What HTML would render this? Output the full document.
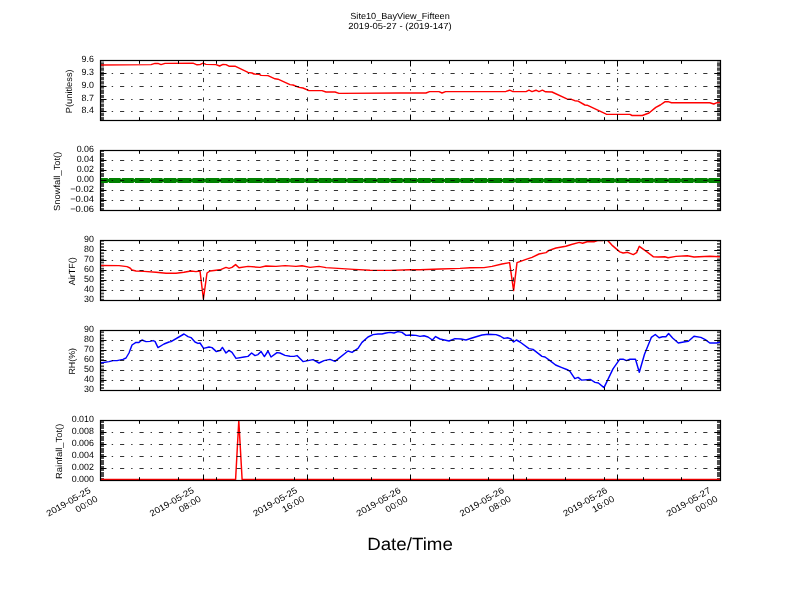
<!DOCTYPE html><html><head><meta charset="utf-8"><style>html,body{margin:0;padding:0;background:#fff;}svg{display:block;will-change:transform;}text{font-family:"Liberation Sans", sans-serif;text-rendering:geometricPrecision;}</style></head><body>
<svg width="800" height="600" viewBox="0 0 800 600">
<text x="400.00" y="18.90" font-size="8.86" text-anchor="middle" textLength="99.49" lengthAdjust="spacingAndGlyphs">Site10_BayView_Fifteen</text>
<text x="400.00" y="28.60" font-size="8.86" text-anchor="middle" textLength="103.35" lengthAdjust="spacingAndGlyphs">2019-05-27 - (2019-147)</text>
<clipPath id="c0"><rect x="100" y="60" width="621" height="61"/></clipPath>
<rect x="101" y="61.00" width="3" height="0.45" fill="#4d4d4d"/><rect x="717" y="61.00" width="3" height="0.45" fill="#4d4d4d"/>
<rect x="101" y="62.35" width="3" height="4.20" fill="#4d4d4d"/><rect x="717" y="62.35" width="3" height="4.20" fill="#4d4d4d"/>
<rect x="101" y="67.45" width="3" height="3.40" fill="#4d4d4d"/><rect x="717" y="67.45" width="3" height="3.40" fill="#4d4d4d"/>
<rect x="101" y="71.75" width="3" height="4.20" fill="#4d4d4d"/><rect x="717" y="71.75" width="3" height="4.20" fill="#4d4d4d"/>
<rect x="101" y="76.85" width="3" height="3.40" fill="#4d4d4d"/><rect x="717" y="76.85" width="3" height="3.40" fill="#4d4d4d"/>
<rect x="101" y="81.15" width="3" height="3.30" fill="#4d4d4d"/><rect x="717" y="81.15" width="3" height="3.30" fill="#4d4d4d"/>
<rect x="101" y="85.35" width="3" height="3.30" fill="#4d4d4d"/><rect x="717" y="85.35" width="3" height="3.30" fill="#4d4d4d"/>
<rect x="101" y="89.55" width="3" height="4.50" fill="#4d4d4d"/><rect x="717" y="89.55" width="3" height="4.50" fill="#4d4d4d"/>
<rect x="101" y="94.95" width="3" height="3.10" fill="#4d4d4d"/><rect x="717" y="94.95" width="3" height="3.10" fill="#4d4d4d"/>
<rect x="101" y="98.95" width="3" height="3.70" fill="#4d4d4d"/><rect x="717" y="98.95" width="3" height="3.70" fill="#4d4d4d"/>
<rect x="101" y="103.55" width="3" height="3.40" fill="#4d4d4d"/><rect x="717" y="103.55" width="3" height="3.40" fill="#4d4d4d"/>
<rect x="101" y="107.85" width="3" height="3.90" fill="#4d4d4d"/><rect x="717" y="107.85" width="3" height="3.90" fill="#4d4d4d"/>
<rect x="101" y="112.65" width="3" height="3.50" fill="#4d4d4d"/><rect x="717" y="112.65" width="3" height="3.50" fill="#4d4d4d"/>
<rect x="101" y="117.05" width="3" height="2.95" fill="#4d4d4d"/><rect x="717" y="117.05" width="3" height="2.95" fill="#4d4d4d"/>
<path d="M100.0,65.0 L151.0,64.6 L155.0,63.4 L158.0,63.4 L161.0,64.6 L165.0,63.4 L193.0,63.2 L197.0,64.8 L200.0,64.6 L203.0,63.2 L206.0,64.4 L216.0,64.6 L219.6,66.0 L223.0,64.4 L226.0,64.6 L229.0,66.2 L235.0,66.2 L248.0,72.4 L252.0,73.0 L254.0,74.0 L259.0,74.2 L261.0,75.4 L268.0,75.6 L275.0,78.8 L278.0,79.2 L290.0,84.6 L293.0,85.0 L299.0,87.4 L303.0,88.0 L309.0,90.6 L322.0,90.6 L326.0,92.0 L335.0,92.0 L339.0,93.4 L400.0,93.0 L426.0,93.0 L429.6,91.6 L439.0,91.6 L442.0,93.0 L445.6,91.6 L506.0,91.4 L509.6,90.2 L513.0,91.6 L526.0,91.6 L529.0,90.2 L532.0,91.6 L536.0,90.2 L539.0,91.6 L542.4,90.2 L545.6,91.8 L552.0,92.0 L566.9,98.9 L571.4,99.3 L574.8,100.7 L578.1,101.1 L584.9,105.0 L587.1,105.2 L606.3,114.2 L629.9,114.4 L632.1,115.5 L642.3,115.5 L649.0,113.0 L655.8,107.4 L660.3,105.0 L664.8,101.8 L668.1,101.6 L671.5,102.7 L709.8,102.7 L713.8,104.0 L717.0,102.7 L720.0,102.5" fill="none" stroke="#ff0000" stroke-width="1.45" stroke-linejoin="round" clip-path="url(#c0)"/>
<path d="M100.6,73.5H720M100.6,86.5H720M100.6,99.5H720M100.6,111.5H720M203.5,121V60M307.5,121V60M410.5,121V60M513.5,121V60M617.5,121V60" stroke="#000" stroke-width="0.8" stroke-dasharray="4.17 6.94 1.39 6.94" fill="none"/>
<path d="M101,60.5H106.5M720,60.5H714.5M101,73.5H106.5M720,73.5H714.5M101,86.5H106.5M720,86.5H714.5M101,99.5H106.5M720,99.5H714.5M101,111.5H106.5M720,111.5H714.5M100.5,120V114.5M100.5,61V66.5M203.5,120V114.5M203.5,61V66.5M307.5,120V114.5M307.5,61V66.5M410.5,120V114.5M410.5,61V66.5M513.5,120V114.5M513.5,61V66.5M617.5,120V114.5M617.5,61V66.5M720.5,120V114.5M720.5,61V66.5M139.5,120V117.2M139.5,61V63.8M178.5,120V117.2M178.5,61V63.8M216.5,120V117.2M216.5,61V63.8M255.5,120V117.2M255.5,61V63.8M294.5,120V117.2M294.5,61V63.8M333.5,120V117.2M333.5,61V63.8M371.5,120V117.2M371.5,61V63.8M449.5,120V117.2M449.5,61V63.8M488.5,120V117.2M488.5,61V63.8M526.5,120V117.2M526.5,61V63.8M565.5,120V117.2M565.5,61V63.8M604.5,120V117.2M604.5,61V63.8M643.5,120V117.2M643.5,61V63.8M681.5,120V117.2M681.5,61V63.8" stroke="#000" stroke-width="1" fill="none"/>
<rect x="100.5" y="60.5" width="620" height="60" fill="none" stroke="#000" stroke-width="1.2"/>
<text x="93.90" y="62.30" font-size="9.10" text-anchor="end" textLength="12.32" lengthAdjust="spacingAndGlyphs">9.6</text>
<text x="93.90" y="75.30" font-size="9.10" text-anchor="end" textLength="12.32" lengthAdjust="spacingAndGlyphs">9.3</text>
<text x="93.90" y="88.30" font-size="9.10" text-anchor="end" textLength="12.32" lengthAdjust="spacingAndGlyphs">9.0</text>
<text x="93.90" y="101.30" font-size="9.10" text-anchor="end" textLength="12.32" lengthAdjust="spacingAndGlyphs">8.7</text>
<text x="93.90" y="113.30" font-size="9.10" text-anchor="end" textLength="12.32" lengthAdjust="spacingAndGlyphs">8.4</text>
<text transform="translate(71.90,91.30) rotate(-90)" font-size="8.86" text-anchor="middle" textLength="43.80" lengthAdjust="spacingAndGlyphs">P(unitless)</text>
<clipPath id="c1"><rect x="100" y="150" width="621" height="61"/></clipPath>
<rect x="101" y="151.00" width="3" height="1.00" fill="#4d4d4d"/><rect x="717" y="151.00" width="3" height="1.00" fill="#4d4d4d"/>
<rect x="101" y="153.00" width="3" height="4.00" fill="#4d4d4d"/><rect x="717" y="153.00" width="3" height="4.00" fill="#4d4d4d"/>
<rect x="101" y="158.00" width="3" height="4.00" fill="#4d4d4d"/><rect x="717" y="158.00" width="3" height="4.00" fill="#4d4d4d"/>
<rect x="101" y="163.00" width="3" height="4.00" fill="#4d4d4d"/><rect x="717" y="163.00" width="3" height="4.00" fill="#4d4d4d"/>
<rect x="101" y="168.00" width="3" height="4.00" fill="#4d4d4d"/><rect x="717" y="168.00" width="3" height="4.00" fill="#4d4d4d"/>
<rect x="101" y="173.00" width="3" height="4.00" fill="#4d4d4d"/><rect x="717" y="173.00" width="3" height="4.00" fill="#4d4d4d"/>
<rect x="101" y="178.00" width="3" height="4.00" fill="#4d4d4d"/><rect x="717" y="178.00" width="3" height="4.00" fill="#4d4d4d"/>
<rect x="101" y="183.00" width="3" height="4.00" fill="#4d4d4d"/><rect x="717" y="183.00" width="3" height="4.00" fill="#4d4d4d"/>
<rect x="101" y="188.00" width="3" height="4.00" fill="#4d4d4d"/><rect x="717" y="188.00" width="3" height="4.00" fill="#4d4d4d"/>
<rect x="101" y="193.00" width="3" height="4.00" fill="#4d4d4d"/><rect x="717" y="193.00" width="3" height="4.00" fill="#4d4d4d"/>
<rect x="101" y="198.00" width="3" height="4.00" fill="#4d4d4d"/><rect x="717" y="198.00" width="3" height="4.00" fill="#4d4d4d"/>
<rect x="101" y="203.00" width="3" height="4.00" fill="#4d4d4d"/><rect x="717" y="203.00" width="3" height="4.00" fill="#4d4d4d"/>
<rect x="101" y="208.00" width="3" height="2.00" fill="#4d4d4d"/><rect x="717" y="208.00" width="3" height="2.00" fill="#4d4d4d"/>
<rect x="100" y="178" width="620" height="5" fill="#008000"/>
<path d="M108.40,178V178.9M108.40,182.1V183M121.25,178V178.9M121.25,182.1V183M134.40,178V178.9M134.40,182.1V183M150.60,178V178.9M150.60,182.1V183M163.10,178V178.9M163.10,182.1V183M176.90,178V178.9M176.90,182.1V183M191.90,178V178.9M191.90,182.1V183M205.00,178V178.9M205.00,182.1V183M220.00,178V178.9M220.00,182.1V183M233.75,178V178.9M233.75,182.1V183M246.90,178V178.9M246.90,182.1V183M263.10,178V178.9M263.10,182.1V183M276.90,178V178.9M276.90,182.1V183M290.00,178V178.9M290.00,182.1V183M305.00,178V178.9M305.00,182.1V183M318.10,178V178.9M318.10,182.1V183M331.90,178V178.9M331.90,182.1V183M346.90,178V178.9M346.90,182.1V183M363.75,178V178.9M363.75,182.1V183M376.90,178V178.9M376.90,182.1V183M390.00,178V178.9M390.00,182.1V183M403.10,178V178.9M403.10,182.1V183M417.50,178V178.9M417.50,182.1V183M431.25,178V178.9M431.25,182.1V183M444.40,178V178.9M444.40,182.1V183M460.00,178V178.9M460.00,182.1V183M473.75,178V178.9M473.75,182.1V183M487.50,178V178.9M487.50,182.1V183M502.50,178V178.9M502.50,182.1V183M515.00,178V178.9M515.00,182.1V183M530.00,178V178.9M530.00,182.1V183M543.75,178V178.9M543.75,182.1V183M562.00,178V178.9M562.00,182.1V183M575.00,178V178.9M575.00,182.1V183M588.00,178V178.9M588.00,182.1V183M601.00,178V178.9M601.00,182.1V183M615.00,178V178.9M615.00,182.1V183M628.00,178V178.9M628.00,182.1V183M641.00,178V178.9M641.00,182.1V183M654.00,178V178.9M654.00,182.1V183M668.00,178V178.9M668.00,182.1V183M681.00,178V178.9M681.00,182.1V183M694.00,178V178.9M694.00,182.1V183M708.00,178V178.9M708.00,182.1V183" stroke="#fff" stroke-width="1.2" opacity="0.85"/>
<path d="M100.6,160.5H720M100.6,170.5H720M100.6,180.5H720M100.6,190.5H720M100.6,200.5H720M203.5,211V150M307.5,211V150M410.5,211V150M513.5,211V150M617.5,211V150" stroke="#000" stroke-width="0.8" stroke-dasharray="4.17 6.94 1.39 6.94" fill="none"/>
<path d="M101,150.5H106.5M720,150.5H714.5M101,160.5H106.5M720,160.5H714.5M101,170.5H106.5M720,170.5H714.5M101,180.5H106.5M720,180.5H714.5M101,190.5H106.5M720,190.5H714.5M101,200.5H106.5M720,200.5H714.5M101,210.5H106.5M720,210.5H714.5M100.5,210V204.5M100.5,151V156.5M203.5,210V204.5M203.5,151V156.5M307.5,210V204.5M307.5,151V156.5M410.5,210V204.5M410.5,151V156.5M513.5,210V204.5M513.5,151V156.5M617.5,210V204.5M617.5,151V156.5M720.5,210V204.5M720.5,151V156.5M139.5,210V207.2M139.5,151V153.8M178.5,210V207.2M178.5,151V153.8M216.5,210V207.2M216.5,151V153.8M255.5,210V207.2M255.5,151V153.8M294.5,210V207.2M294.5,151V153.8M333.5,210V207.2M333.5,151V153.8M371.5,210V207.2M371.5,151V153.8M449.5,210V207.2M449.5,151V153.8M488.5,210V207.2M488.5,151V153.8M526.5,210V207.2M526.5,151V153.8M565.5,210V207.2M565.5,151V153.8M604.5,210V207.2M604.5,151V153.8M643.5,210V207.2M643.5,151V153.8M681.5,210V207.2M681.5,151V153.8" stroke="#000" stroke-width="1" fill="none"/>
<rect x="100.5" y="150.5" width="620" height="60" fill="none" stroke="#000" stroke-width="1.2"/>
<text x="93.90" y="152.30" font-size="9.10" text-anchor="end" textLength="17.26" lengthAdjust="spacingAndGlyphs">0.06</text>
<text x="93.90" y="162.30" font-size="9.10" text-anchor="end" textLength="17.26" lengthAdjust="spacingAndGlyphs">0.04</text>
<text x="93.90" y="172.30" font-size="9.10" text-anchor="end" textLength="17.26" lengthAdjust="spacingAndGlyphs">0.02</text>
<text x="93.90" y="182.30" font-size="9.10" text-anchor="end" textLength="17.26" lengthAdjust="spacingAndGlyphs">0.00</text>
<text x="93.90" y="192.30" font-size="9.10" text-anchor="end" textLength="23.75" lengthAdjust="spacingAndGlyphs">−0.02</text>
<text x="93.90" y="202.30" font-size="9.10" text-anchor="end" textLength="23.75" lengthAdjust="spacingAndGlyphs">−0.04</text>
<text x="93.90" y="212.30" font-size="9.10" text-anchor="end" textLength="23.75" lengthAdjust="spacingAndGlyphs">−0.06</text>
<text transform="translate(59.80,181.30) rotate(-90)" font-size="8.86" text-anchor="middle" textLength="59.28" lengthAdjust="spacingAndGlyphs">Snowfall_Tot()</text>
<clipPath id="c2"><rect x="100" y="240" width="621" height="61"/></clipPath>
<rect x="101" y="241.00" width="3" height="0.70" fill="#4d4d4d"/><rect x="717" y="241.00" width="3" height="0.70" fill="#4d4d4d"/>
<rect x="101" y="243.00" width="3" height="1.80" fill="#4d4d4d"/><rect x="717" y="243.00" width="3" height="1.80" fill="#4d4d4d"/>
<rect x="101" y="246.10" width="3" height="1.80" fill="#4d4d4d"/><rect x="717" y="246.10" width="3" height="1.80" fill="#4d4d4d"/>
<rect x="101" y="249.20" width="3" height="1.80" fill="#4d4d4d"/><rect x="717" y="249.20" width="3" height="1.80" fill="#4d4d4d"/>
<rect x="101" y="252.30" width="3" height="1.80" fill="#4d4d4d"/><rect x="717" y="252.30" width="3" height="1.80" fill="#4d4d4d"/>
<rect x="101" y="255.40" width="3" height="1.80" fill="#4d4d4d"/><rect x="717" y="255.40" width="3" height="1.80" fill="#4d4d4d"/>
<rect x="101" y="258.50" width="3" height="1.80" fill="#4d4d4d"/><rect x="717" y="258.50" width="3" height="1.80" fill="#4d4d4d"/>
<rect x="101" y="261.60" width="3" height="1.80" fill="#4d4d4d"/><rect x="717" y="261.60" width="3" height="1.80" fill="#4d4d4d"/>
<rect x="101" y="264.70" width="3" height="1.80" fill="#4d4d4d"/><rect x="717" y="264.70" width="3" height="1.80" fill="#4d4d4d"/>
<rect x="101" y="267.80" width="3" height="1.80" fill="#4d4d4d"/><rect x="717" y="267.80" width="3" height="1.80" fill="#4d4d4d"/>
<rect x="101" y="270.90" width="3" height="1.80" fill="#4d4d4d"/><rect x="717" y="270.90" width="3" height="1.80" fill="#4d4d4d"/>
<rect x="101" y="274.00" width="3" height="1.80" fill="#4d4d4d"/><rect x="717" y="274.00" width="3" height="1.80" fill="#4d4d4d"/>
<rect x="101" y="277.10" width="3" height="1.80" fill="#4d4d4d"/><rect x="717" y="277.10" width="3" height="1.80" fill="#4d4d4d"/>
<rect x="101" y="280.20" width="3" height="1.80" fill="#4d4d4d"/><rect x="717" y="280.20" width="3" height="1.80" fill="#4d4d4d"/>
<rect x="101" y="283.30" width="3" height="1.80" fill="#4d4d4d"/><rect x="717" y="283.30" width="3" height="1.80" fill="#4d4d4d"/>
<rect x="101" y="286.40" width="3" height="1.80" fill="#4d4d4d"/><rect x="717" y="286.40" width="3" height="1.80" fill="#4d4d4d"/>
<rect x="101" y="289.50" width="3" height="1.80" fill="#4d4d4d"/><rect x="717" y="289.50" width="3" height="1.80" fill="#4d4d4d"/>
<rect x="101" y="292.60" width="3" height="1.80" fill="#4d4d4d"/><rect x="717" y="292.60" width="3" height="1.80" fill="#4d4d4d"/>
<rect x="101" y="295.70" width="3" height="1.80" fill="#4d4d4d"/><rect x="717" y="295.70" width="3" height="1.80" fill="#4d4d4d"/>
<rect x="101" y="298.80" width="3" height="1.20" fill="#4d4d4d"/><rect x="717" y="298.80" width="3" height="1.20" fill="#4d4d4d"/>
<path d="M100.0,265.4 L119.0,265.6 L127.0,266.6 L130.0,268.0 L132.0,270.0 L136.0,271.0 L144.0,271.4 L156.0,272.2 L166.0,273.2 L176.0,273.2 L184.0,272.2 L191.0,271.0 L196.0,271.6 L200.0,271.0 L203.4,299.0 L207.0,273.0 L210.0,271.0 L220.0,269.8 L226.0,267.4 L229.0,268.4 L232.0,267.4 L235.6,264.6 L239.0,267.8 L248.0,266.4 L260.0,267.4 L266.0,266.0 L276.0,266.4 L285.0,265.6 L296.0,266.4 L302.0,265.8 L310.0,267.4 L319.0,266.4 L326.0,267.6 L338.0,268.4 L354.0,269.4 L370.0,270.2 L390.0,270.4 L410.0,269.8 L420.0,269.8 L440.0,269.0 L460.0,268.4 L470.0,267.8 L484.0,267.6 L492.0,266.4 L502.0,264.0 L509.6,262.6 L513.6,290.6 L517.0,262.6 L526.0,259.4 L532.0,257.4 L539.0,254.0 L546.0,252.6 L549.0,250.4 L556.0,248.0 L565.8,246.2 L571.4,244.5 L579.3,242.4 L582.6,243.3 L587.1,241.8 L593.9,241.8 L598.4,240.4 L602.9,240.4 L607.4,240.2 L611.9,245.1 L619.8,251.9 L623.1,253.0 L627.6,252.3 L633.3,254.6 L636.6,252.6 L639.3,246.3 L645.6,250.8 L653.5,256.8 L658.0,257.0 L664.8,256.8 L668.1,257.7 L676.0,256.4 L687.3,255.7 L694.0,257.0 L709.8,256.2 L720.0,256.8" fill="none" stroke="#ff0000" stroke-width="1.45" stroke-linejoin="round" clip-path="url(#c2)"/>
<path d="M100.6,250.5H720M100.6,260.5H720M100.6,270.5H720M100.6,280.5H720M100.6,290.5H720M203.5,301V240M307.5,301V240M410.5,301V240M513.5,301V240M617.5,301V240" stroke="#000" stroke-width="0.8" stroke-dasharray="4.17 6.94 1.39 6.94" fill="none"/>
<path d="M101,240.5H106.5M720,240.5H714.5M101,250.5H106.5M720,250.5H714.5M101,260.5H106.5M720,260.5H714.5M101,270.5H106.5M720,270.5H714.5M101,280.5H106.5M720,280.5H714.5M101,290.5H106.5M720,290.5H714.5M101,300.5H106.5M720,300.5H714.5M100.5,300V294.5M100.5,241V246.5M203.5,300V294.5M203.5,241V246.5M307.5,300V294.5M307.5,241V246.5M410.5,300V294.5M410.5,241V246.5M513.5,300V294.5M513.5,241V246.5M617.5,300V294.5M617.5,241V246.5M720.5,300V294.5M720.5,241V246.5M139.5,300V297.2M139.5,241V243.8M178.5,300V297.2M178.5,241V243.8M216.5,300V297.2M216.5,241V243.8M255.5,300V297.2M255.5,241V243.8M294.5,300V297.2M294.5,241V243.8M333.5,300V297.2M333.5,241V243.8M371.5,300V297.2M371.5,241V243.8M449.5,300V297.2M449.5,241V243.8M488.5,300V297.2M488.5,241V243.8M526.5,300V297.2M526.5,241V243.8M565.5,300V297.2M565.5,241V243.8M604.5,300V297.2M604.5,241V243.8M643.5,300V297.2M643.5,241V243.8M681.5,300V297.2M681.5,241V243.8" stroke="#000" stroke-width="1" fill="none"/>
<rect x="100.5" y="240.5" width="620" height="60" fill="none" stroke="#000" stroke-width="1.2"/>
<text x="93.90" y="242.30" font-size="9.10" text-anchor="end" textLength="9.86" lengthAdjust="spacingAndGlyphs">90</text>
<text x="93.90" y="252.30" font-size="9.10" text-anchor="end" textLength="9.86" lengthAdjust="spacingAndGlyphs">80</text>
<text x="93.90" y="262.30" font-size="9.10" text-anchor="end" textLength="9.86" lengthAdjust="spacingAndGlyphs">70</text>
<text x="93.90" y="272.30" font-size="9.10" text-anchor="end" textLength="9.86" lengthAdjust="spacingAndGlyphs">60</text>
<text x="93.90" y="282.30" font-size="9.10" text-anchor="end" textLength="9.86" lengthAdjust="spacingAndGlyphs">50</text>
<text x="93.90" y="292.30" font-size="9.10" text-anchor="end" textLength="9.86" lengthAdjust="spacingAndGlyphs">40</text>
<text x="93.90" y="302.30" font-size="9.10" text-anchor="end" textLength="9.86" lengthAdjust="spacingAndGlyphs">30</text>
<text transform="translate(74.70,271.30) rotate(-90)" font-size="8.86" text-anchor="middle" textLength="27.83" lengthAdjust="spacingAndGlyphs">AirTF()</text>
<clipPath id="c3"><rect x="100" y="330" width="621" height="61"/></clipPath>
<rect x="101" y="387.10" width="3" height="1.80" fill="#4d4d4d"/><rect x="717" y="387.10" width="3" height="1.80" fill="#4d4d4d"/>
<rect x="101" y="384.00" width="3" height="1.80" fill="#4d4d4d"/><rect x="717" y="384.00" width="3" height="1.80" fill="#4d4d4d"/>
<rect x="101" y="380.90" width="3" height="1.80" fill="#4d4d4d"/><rect x="717" y="380.90" width="3" height="1.80" fill="#4d4d4d"/>
<rect x="101" y="377.80" width="3" height="1.80" fill="#4d4d4d"/><rect x="717" y="377.80" width="3" height="1.80" fill="#4d4d4d"/>
<rect x="101" y="374.70" width="3" height="1.80" fill="#4d4d4d"/><rect x="717" y="374.70" width="3" height="1.80" fill="#4d4d4d"/>
<rect x="101" y="371.60" width="3" height="1.80" fill="#4d4d4d"/><rect x="717" y="371.60" width="3" height="1.80" fill="#4d4d4d"/>
<rect x="101" y="368.50" width="3" height="1.80" fill="#4d4d4d"/><rect x="717" y="368.50" width="3" height="1.80" fill="#4d4d4d"/>
<rect x="101" y="365.40" width="3" height="1.80" fill="#4d4d4d"/><rect x="717" y="365.40" width="3" height="1.80" fill="#4d4d4d"/>
<rect x="101" y="362.30" width="3" height="1.80" fill="#4d4d4d"/><rect x="717" y="362.30" width="3" height="1.80" fill="#4d4d4d"/>
<rect x="101" y="359.20" width="3" height="1.80" fill="#4d4d4d"/><rect x="717" y="359.20" width="3" height="1.80" fill="#4d4d4d"/>
<rect x="101" y="356.10" width="3" height="1.80" fill="#4d4d4d"/><rect x="717" y="356.10" width="3" height="1.80" fill="#4d4d4d"/>
<rect x="101" y="353.00" width="3" height="1.80" fill="#4d4d4d"/><rect x="717" y="353.00" width="3" height="1.80" fill="#4d4d4d"/>
<rect x="101" y="349.90" width="3" height="1.80" fill="#4d4d4d"/><rect x="717" y="349.90" width="3" height="1.80" fill="#4d4d4d"/>
<rect x="101" y="346.80" width="3" height="1.80" fill="#4d4d4d"/><rect x="717" y="346.80" width="3" height="1.80" fill="#4d4d4d"/>
<rect x="101" y="343.70" width="3" height="1.80" fill="#4d4d4d"/><rect x="717" y="343.70" width="3" height="1.80" fill="#4d4d4d"/>
<rect x="101" y="340.60" width="3" height="1.80" fill="#4d4d4d"/><rect x="717" y="340.60" width="3" height="1.80" fill="#4d4d4d"/>
<rect x="101" y="337.50" width="3" height="1.80" fill="#4d4d4d"/><rect x="717" y="337.50" width="3" height="1.80" fill="#4d4d4d"/>
<rect x="101" y="334.40" width="3" height="1.80" fill="#4d4d4d"/><rect x="717" y="334.40" width="3" height="1.80" fill="#4d4d4d"/>
<rect x="101" y="331.30" width="3" height="1.80" fill="#4d4d4d"/><rect x="717" y="331.30" width="3" height="1.80" fill="#4d4d4d"/>
<path d="M100.0,363.0 L109.0,361.6 L113.0,360.6 L117.0,360.6 L123.0,359.4 L126.0,358.0 L129.0,353.0 L132.0,345.0 L136.0,342.4 L139.0,342.4 L142.0,340.0 L146.0,341.6 L150.0,341.4 L153.0,340.6 L155.0,341.4 L158.0,347.6 L164.0,344.0 L169.0,342.0 L171.0,341.6 L184.0,334.0 L188.0,336.6 L191.0,337.6 L195.0,342.0 L198.0,343.4 L200.0,343.0 L203.6,348.4 L209.0,347.0 L212.0,347.6 L216.4,351.6 L220.0,350.6 L222.4,347.4 L226.0,353.0 L229.0,350.4 L232.0,352.4 L236.0,358.4 L244.0,357.0 L248.0,356.4 L251.6,353.0 L255.0,355.6 L258.0,354.6 L261.0,351.4 L264.4,356.6 L268.0,351.0 L271.0,357.0 L277.0,352.6 L280.0,353.0 L285.0,355.4 L290.0,356.2 L294.0,356.4 L297.0,355.6 L303.0,361.6 L308.0,360.6 L313.0,359.6 L319.0,363.0 L324.0,360.6 L330.0,359.4 L335.0,361.4 L348.0,351.0 L352.0,352.4 L358.0,348.4 L362.0,342.4 L368.0,337.0 L373.0,334.6 L378.0,334.0 L382.0,334.0 L386.0,333.0 L390.0,332.4 L394.0,333.0 L398.0,331.6 L402.0,332.4 L406.0,335.4 L410.0,335.0 L416.0,335.4 L420.0,336.4 L424.0,335.8 L428.0,337.0 L432.4,340.0 L435.6,336.6 L440.0,339.0 L449.0,341.0 L455.0,338.6 L461.0,339.0 L466.0,340.0 L472.0,338.0 L482.0,335.0 L488.0,334.2 L496.0,334.6 L500.0,336.0 L504.0,338.4 L508.0,337.8 L511.0,339.0 L513.6,342.0 L516.4,340.0 L520.0,342.0 L529.0,348.6 L533.0,349.4 L542.0,356.4 L545.0,357.0 L550.0,360.6 L555.6,365.0 L561.3,367.3 L568.0,370.0 L570.3,371.8 L574.8,378.6 L578.1,377.4 L581.5,380.1 L590.5,379.5 L595.0,382.4 L598.4,383.0 L604.0,387.6 L613.0,368.9 L619.8,359.2 L623.1,359.2 L626.5,360.6 L629.9,359.2 L635.5,359.2 L639.3,372.3 L644.5,354.3 L651.3,337.4 L655.3,334.5 L659.1,337.8 L662.5,336.7 L665.9,336.7 L668.6,333.6 L672.6,338.0 L678.3,343.0 L685.0,341.7 L688.4,341.2 L694.0,336.3 L700.8,337.4 L705.3,339.6 L709.8,343.0 L716.5,343.0 L720.0,342.3" fill="none" stroke="#0000ff" stroke-width="1.45" stroke-linejoin="round" clip-path="url(#c3)"/>
<path d="M100.6,340.5H720M100.6,350.5H720M100.6,360.5H720M100.6,370.5H720M100.6,380.5H720M203.5,391V330M307.5,391V330M410.5,391V330M513.5,391V330M617.5,391V330" stroke="#000" stroke-width="0.8" stroke-dasharray="4.17 6.94 1.39 6.94" fill="none"/>
<path d="M101,330.5H106.5M720,330.5H714.5M101,340.5H106.5M720,340.5H714.5M101,350.5H106.5M720,350.5H714.5M101,360.5H106.5M720,360.5H714.5M101,370.5H106.5M720,370.5H714.5M101,380.5H106.5M720,380.5H714.5M101,390.5H106.5M720,390.5H714.5M100.5,390V384.5M100.5,331V336.5M203.5,390V384.5M203.5,331V336.5M307.5,390V384.5M307.5,331V336.5M410.5,390V384.5M410.5,331V336.5M513.5,390V384.5M513.5,331V336.5M617.5,390V384.5M617.5,331V336.5M720.5,390V384.5M720.5,331V336.5M139.5,390V387.2M139.5,331V333.8M178.5,390V387.2M178.5,331V333.8M216.5,390V387.2M216.5,331V333.8M255.5,390V387.2M255.5,331V333.8M294.5,390V387.2M294.5,331V333.8M333.5,390V387.2M333.5,331V333.8M371.5,390V387.2M371.5,331V333.8M449.5,390V387.2M449.5,331V333.8M488.5,390V387.2M488.5,331V333.8M526.5,390V387.2M526.5,331V333.8M565.5,390V387.2M565.5,331V333.8M604.5,390V387.2M604.5,331V333.8M643.5,390V387.2M643.5,331V333.8M681.5,390V387.2M681.5,331V333.8" stroke="#000" stroke-width="1" fill="none"/>
<rect x="100.5" y="330.5" width="620" height="60" fill="none" stroke="#000" stroke-width="1.2"/>
<text x="93.90" y="332.30" font-size="9.10" text-anchor="end" textLength="9.86" lengthAdjust="spacingAndGlyphs">90</text>
<text x="93.90" y="342.30" font-size="9.10" text-anchor="end" textLength="9.86" lengthAdjust="spacingAndGlyphs">80</text>
<text x="93.90" y="352.30" font-size="9.10" text-anchor="end" textLength="9.86" lengthAdjust="spacingAndGlyphs">70</text>
<text x="93.90" y="362.30" font-size="9.10" text-anchor="end" textLength="9.86" lengthAdjust="spacingAndGlyphs">60</text>
<text x="93.90" y="372.30" font-size="9.10" text-anchor="end" textLength="9.86" lengthAdjust="spacingAndGlyphs">50</text>
<text x="93.90" y="382.30" font-size="9.10" text-anchor="end" textLength="9.86" lengthAdjust="spacingAndGlyphs">40</text>
<text x="93.90" y="392.30" font-size="9.10" text-anchor="end" textLength="9.86" lengthAdjust="spacingAndGlyphs">30</text>
<text transform="translate(74.70,361.30) rotate(-90)" font-size="8.86" text-anchor="middle" textLength="26.48" lengthAdjust="spacingAndGlyphs">RH(%)</text>
<clipPath id="c4"><rect x="100" y="420" width="621" height="61"/></clipPath>
<rect x="101" y="421.00" width="3" height="2.00" fill="#4d4d4d"/><rect x="717" y="421.00" width="3" height="2.00" fill="#4d4d4d"/>
<rect x="101" y="424.00" width="3" height="5.00" fill="#4d4d4d"/><rect x="717" y="424.00" width="3" height="5.00" fill="#4d4d4d"/>
<rect x="101" y="430.00" width="3" height="5.00" fill="#4d4d4d"/><rect x="717" y="430.00" width="3" height="5.00" fill="#4d4d4d"/>
<rect x="101" y="436.00" width="3" height="5.00" fill="#4d4d4d"/><rect x="717" y="436.00" width="3" height="5.00" fill="#4d4d4d"/>
<rect x="101" y="442.00" width="3" height="5.00" fill="#4d4d4d"/><rect x="717" y="442.00" width="3" height="5.00" fill="#4d4d4d"/>
<rect x="101" y="448.00" width="3" height="5.00" fill="#4d4d4d"/><rect x="717" y="448.00" width="3" height="5.00" fill="#4d4d4d"/>
<rect x="101" y="454.00" width="3" height="5.00" fill="#4d4d4d"/><rect x="717" y="454.00" width="3" height="5.00" fill="#4d4d4d"/>
<rect x="101" y="460.00" width="3" height="5.00" fill="#4d4d4d"/><rect x="717" y="460.00" width="3" height="5.00" fill="#4d4d4d"/>
<rect x="101" y="466.00" width="3" height="5.00" fill="#4d4d4d"/><rect x="717" y="466.00" width="3" height="5.00" fill="#4d4d4d"/>
<rect x="101" y="472.00" width="3" height="5.00" fill="#4d4d4d"/><rect x="717" y="472.00" width="3" height="5.00" fill="#4d4d4d"/>
<rect x="101" y="478.00" width="3" height="2.00" fill="#4d4d4d"/><rect x="717" y="478.00" width="3" height="2.00" fill="#4d4d4d"/>
<path d="M100.0,479.4 L235.6,479.4 L238.8,420.5 L242.1,479.4 L720.0,479.4" fill="none" stroke="#ff0000" stroke-width="1.45" stroke-linejoin="round" clip-path="url(#c4)"/>
<path d="M100.6,432.5H720M100.6,444.5H720M100.6,456.5H720M100.6,468.5H720M203.5,481V420M307.5,481V420M410.5,481V420M513.5,481V420M617.5,481V420" stroke="#000" stroke-width="0.8" stroke-dasharray="4.17 6.94 1.39 6.94" fill="none"/>
<path d="M101,420.5H106.5M720,420.5H714.5M101,432.5H106.5M720,432.5H714.5M101,444.5H106.5M720,444.5H714.5M101,456.5H106.5M720,456.5H714.5M101,468.5H106.5M720,468.5H714.5M101,480.5H106.5M720,480.5H714.5M100.5,480V474.5M100.5,421V426.5M203.5,480V474.5M203.5,421V426.5M307.5,480V474.5M307.5,421V426.5M410.5,480V474.5M410.5,421V426.5M513.5,480V474.5M513.5,421V426.5M617.5,480V474.5M617.5,421V426.5M720.5,480V474.5M720.5,421V426.5M139.5,480V477.2M139.5,421V423.8M178.5,480V477.2M178.5,421V423.8M216.5,480V477.2M216.5,421V423.8M255.5,480V477.2M255.5,421V423.8M294.5,480V477.2M294.5,421V423.8M333.5,480V477.2M333.5,421V423.8M371.5,480V477.2M371.5,421V423.8M449.5,480V477.2M449.5,421V423.8M488.5,480V477.2M488.5,421V423.8M526.5,480V477.2M526.5,421V423.8M565.5,480V477.2M565.5,421V423.8M604.5,480V477.2M604.5,421V423.8M643.5,480V477.2M643.5,421V423.8M681.5,480V477.2M681.5,421V423.8" stroke="#000" stroke-width="1" fill="none"/>
<rect x="100.5" y="420.5" width="620" height="60" fill="none" stroke="#000" stroke-width="1.2"/>
<text x="93.90" y="422.30" font-size="9.10" text-anchor="end" textLength="22.19" lengthAdjust="spacingAndGlyphs">0.010</text>
<text x="93.90" y="434.30" font-size="9.10" text-anchor="end" textLength="22.19" lengthAdjust="spacingAndGlyphs">0.008</text>
<text x="93.90" y="446.30" font-size="9.10" text-anchor="end" textLength="22.19" lengthAdjust="spacingAndGlyphs">0.006</text>
<text x="93.90" y="458.30" font-size="9.10" text-anchor="end" textLength="22.19" lengthAdjust="spacingAndGlyphs">0.004</text>
<text x="93.90" y="470.30" font-size="9.10" text-anchor="end" textLength="22.19" lengthAdjust="spacingAndGlyphs">0.002</text>
<text x="93.90" y="482.30" font-size="9.10" text-anchor="end" textLength="22.19" lengthAdjust="spacingAndGlyphs">0.000</text>
<text transform="translate(61.55,451.30) rotate(-90)" font-size="8.86" text-anchor="middle" textLength="55.29" lengthAdjust="spacingAndGlyphs">Rainfall_Tot()</text>
<g transform="translate(48.73,510.61) rotate(-30)">
<text x="46.13" y="5.23" font-size="8.86" text-anchor="end" textLength="49.43" lengthAdjust="spacingAndGlyphs">2019-05-25</text>
<text x="47.93" y="16.23" font-size="8.86" text-anchor="end" textLength="24.01" lengthAdjust="spacingAndGlyphs">00:00</text>
</g>
<g transform="translate(152.07,510.61) rotate(-30)">
<text x="46.13" y="5.23" font-size="8.86" text-anchor="end" textLength="49.43" lengthAdjust="spacingAndGlyphs">2019-05-25</text>
<text x="47.93" y="16.23" font-size="8.86" text-anchor="end" textLength="24.01" lengthAdjust="spacingAndGlyphs">08:00</text>
</g>
<g transform="translate(255.40,510.61) rotate(-30)">
<text x="46.13" y="5.23" font-size="8.86" text-anchor="end" textLength="49.43" lengthAdjust="spacingAndGlyphs">2019-05-25</text>
<text x="47.93" y="16.23" font-size="8.86" text-anchor="end" textLength="24.01" lengthAdjust="spacingAndGlyphs">16:00</text>
</g>
<g transform="translate(358.73,510.61) rotate(-30)">
<text x="46.13" y="5.23" font-size="8.86" text-anchor="end" textLength="49.43" lengthAdjust="spacingAndGlyphs">2019-05-26</text>
<text x="47.93" y="16.23" font-size="8.86" text-anchor="end" textLength="24.01" lengthAdjust="spacingAndGlyphs">00:00</text>
</g>
<g transform="translate(462.07,510.61) rotate(-30)">
<text x="46.13" y="5.23" font-size="8.86" text-anchor="end" textLength="49.43" lengthAdjust="spacingAndGlyphs">2019-05-26</text>
<text x="47.93" y="16.23" font-size="8.86" text-anchor="end" textLength="24.01" lengthAdjust="spacingAndGlyphs">08:00</text>
</g>
<g transform="translate(565.40,510.61) rotate(-30)">
<text x="46.13" y="5.23" font-size="8.86" text-anchor="end" textLength="49.43" lengthAdjust="spacingAndGlyphs">2019-05-26</text>
<text x="47.93" y="16.23" font-size="8.86" text-anchor="end" textLength="24.01" lengthAdjust="spacingAndGlyphs">16:00</text>
</g>
<g transform="translate(668.73,510.61) rotate(-30)">
<text x="46.13" y="5.23" font-size="8.86" text-anchor="end" textLength="49.43" lengthAdjust="spacingAndGlyphs">2019-05-27</text>
<text x="47.93" y="16.23" font-size="8.86" text-anchor="end" textLength="24.01" lengthAdjust="spacingAndGlyphs">00:00</text>
</g>
<text x="410.00" y="550.10" font-size="17.66" text-anchor="middle" textLength="85.71" lengthAdjust="spacingAndGlyphs">Date/Time</text>
</svg></body></html>
